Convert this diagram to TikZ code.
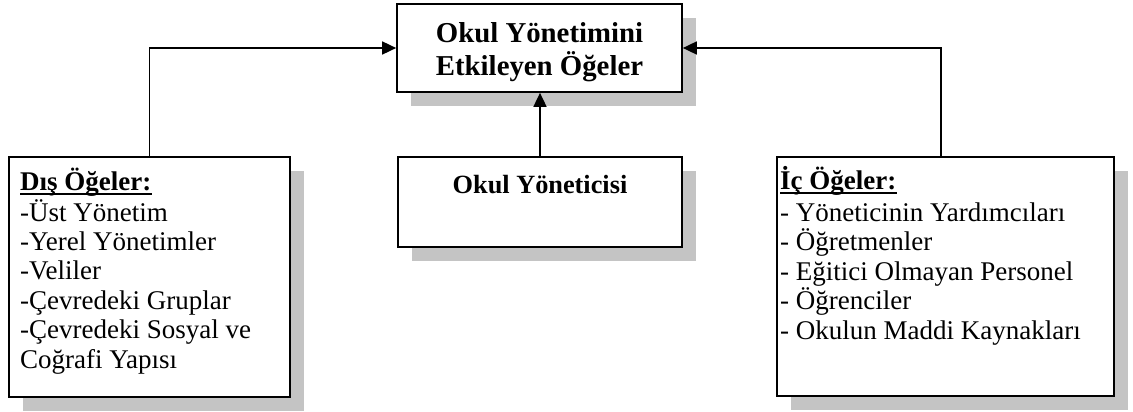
\documentclass[tikz,border=0pt]{standalone}
\usepackage{fontspec}
\setmainfont{Liberation Serif}
\usetikzlibrary{arrows.meta,shadows}

\newcommand\sizeTitle{\fontsize{28.8}{32}\selectfont}
\newcommand\sizeMid{\fontsize{26.3}{29}\selectfont}
\newcommand\sizeList{\fontsize{27}{29.6}\selectfont}

\begin{document}
\begin{tikzpicture}[x=1pt,y=-1pt,
  box/.style={draw=black, line width=1.7pt, fill=white, inner sep=0pt,
    drop shadow={shadow xshift=14pt, shadow yshift=-14pt, fill=black!23, opacity=1}},
  txt/.style={inner sep=0pt, anchor=base west},
  link/.style={line width=1.7pt, -{Triangle[length=14pt,width=13pt]}},
  uline/.style={line width=1.4pt}]

\useasboundingbox (0,0) rectangle (1133,412);

% boxes
\node[box, minimum width=285pt, minimum height=88pt] (top) at (539.5,48) {};
\node[box, minimum width=284pt, minimum height=90pt] (mid) at (540,202) {};
\node[box, minimum width=281pt, minimum height=240pt] (left) at (149.5,277) {};
\node[box, minimum width=337pt, minimum height=239pt] (right) at (945.5,276.5) {};

% connectors
\draw[link] (left.north) |- (top.west);
\draw[link] ([xshift=-4.5pt]right.north) |- (top.east);
\draw[link] (mid.north) -- (mid.north |- top.south);

% top box text
\node[txt, anchor=base] (t1) at (539.5,43) {\sizeTitle\bfseries Okul Yönetimini};
\node[txt, anchor=base] (t2) at (539.5,75) {\sizeTitle\bfseries Etkileyen Öğeler};

% middle box text
\node[txt, anchor=base] (m1) at (540,193) {\sizeMid\bfseries Okul Yöneticisi};

% outer factors
\node[txt] (dh) at (20,190) {\sizeList\bfseries Dış Öğeler:};
\draw[uline] ([yshift=-4pt]dh.base west) -- ([yshift=-4pt]dh.base east);
\foreach \s [count=\i from 0] in {-Üst Yönetim, -Yerel Yönetimler, -Veliler,
    -Çevredeki Gruplar, -Çevredeki Sosyal ve, Coğrafi Yapısı}
  \node[txt] (d\i) at (20,221+29.4*\i) {\sizeList \s};

% inner factors
\node[txt] (ih) at (780,189) {\sizeList\bfseries İç Öğeler:};
\draw[uline] ([yshift=-4pt]ih.base west) -- ([yshift=-4pt]ih.base east);
\foreach \s [count=\i from 0] in {- Yöneticinin Yardımcıları, - Öğretmenler,
    - Eğitici Olmayan Personel, - Öğrenciler, - Okulun Maddi Kaynakları}
  \node[txt] (i\i) at (780,221+29.6*\i) {\sizeList \s};
\end{tikzpicture}
\end{document}
